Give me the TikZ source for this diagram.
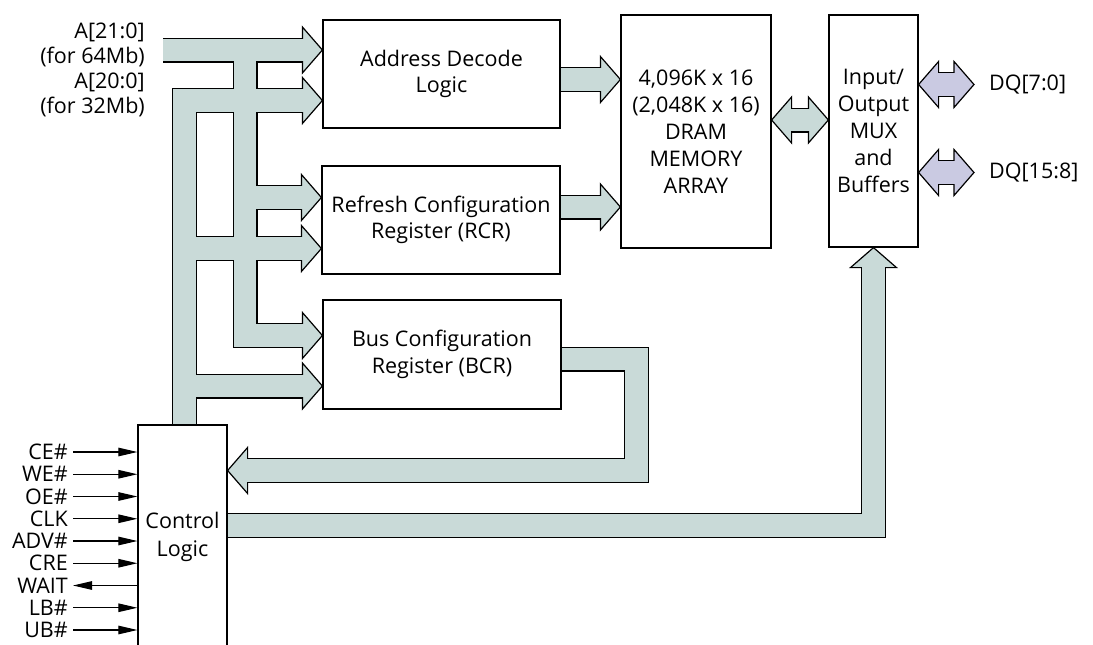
\documentclass[tikz,border=0pt]{standalone}
\usepackage{fontspec}
\setmainfont{Open Sans}
\usetikzlibrary{arrows.meta,calc,backgrounds}

\definecolor{busgray}{RGB}{201,218,216}
\definecolor{buslav}{RGB}{202,202,226}

\tikzset{
  blk/.style={draw=black, line width=1.2pt, fill=white, align=center, inner sep=0pt,
    font=\fontsize{21.5}{26.5}\selectfont},
  txt/.style={inner sep=0pt, font=\fontsize{21.5}{25}\selectfont},
  busedge/.style={draw=black, line width=25pt, line join=miter},
  busfill/.style={draw=#1, line width=22.6pt, line join=miter},
  busfill/.default=busgray,
  sig/.style={line width=1.1pt, >={Triangle[length=19pt,width=8.5pt]}},
  bushead/.pic={\path[pic actions, draw=black, line width=1.2pt, line join=miter]
    (0,0) -- (-20,-23) -- (-20,23) -- cycle;}
}

% all gray bus routes, #1 = style, #2 = overlap into the heads
\newcommand\graynet[2]{%
  \draw[#1] (aIn) -- ($(adl.west |- aIn)+(-20+#2,0)$);
  \draw[#1] (aTop) -- (aBot) -- ($(bcr.west |- aBot)+(-20+#2,0)$);
  \draw[#1] (aMid) -- ($(rcr.west |- aMid)+(-20+#2,0)$);
  \draw[#1] (ctl.north -| cTop) -- (cTop) -- ($(adl.west |- cTop)+(-20+#2,0)$);
  \draw[#1] (cMid) -- ($(rcr.west |- cMid)+(-20+#2,0)$);
  \draw[#1] (cBot) -- ($(bcr.west |- cBot)+(-20+#2,0)$);
  \draw[#1] (adl.east |- amIn) -- ($(mem.west |- amIn)+(-20+#2,0)$);
  \draw[#1] (rcr.east |- rmIn) -- ($(mem.west |- rmIn)+(-20+#2,0)$);
  \draw[#1] ($(mem.east |- mio)+(20-#2,0)$) -- ($(iob.west |- mio)+(-20+#2,0)$);
  \draw[#1] (bcr.east |- bOut) -- (bOut) -- (bRet) -- ($(ctl.east |- bRet)+(20-#2,0)$);
  \draw[#1] (ctl.east |- ioRun) -- (ioRun) -- ($(iob.south -| ioRun)+(0,20-#2)$);
}

\begin{document}
\begin{tikzpicture}[x=1pt, y=-1pt]
  \useasboundingbox (0,0) rectangle (1093,645);

  % blocks
  \node[blk, minimum width=237, minimum height=108] (adl) at (441.5,74) {Address Decode\\Logic};
  \node[blk, minimum width=238, minimum height=108] (rcr) at (441,220) {Refresh Configuration\\Register (RCR)};
  \node[blk, minimum width=238, minimum height=109] (bcr) at (442,354.5) {Bus Configuration\\Register (BCR)};
  \node[blk, minimum width=150, minimum height=233, font=\fontsize{21.5}{27}\selectfont] (mem) at (696,131.5)
    {4,096K x 16\\(2,048K x 16)\\DRAM\\MEMORY\\ARRAY};
  \node[blk, minimum width=89, minimum height=232, font=\fontsize{21.5}{27}\selectfont] (iob) at (873.5,131)
    {Input/\\Output\\MUX\\and\\Buffers};
  \node[blk, minimum width=89, minimum height=224, font=\fontsize{21.5}{28}\selectfont] (ctl) at (182.5,537)
    {Control\\Logic};

  \node[txt, align=right, anchor=east] (alab) at (145,69.5) {A[21:0]\\(for 64Mb)\\A[20:0]\\(for 32Mb)};
  \node[txt, anchor=west] (dqa) at (989,84.5) {DQ[7:0]};
  \node[txt, anchor=west] (dqb) at (989,172.5) {DQ[15:8]};

  % bus corners
  \coordinate (aIn) at (163,50);
  \coordinate (aTop) at (245,50);
  \coordinate (aMid) at (245,197.5);
  \coordinate (aBot) at (245,335.5);
  \coordinate (cTop) at (184.5,100.5);
  \coordinate (cMid) at (184.5,248.5);
  \coordinate (cBot) at (184.5,386);
  \coordinate (amIn) at (560,79.5);
  \coordinate (rmIn) at (560,207);
  \coordinate (mio) at (790,120);
  \coordinate (bOut) at (636.5,359);
  \coordinate (bRet) at (636.5,470.5);
  \coordinate (ioRun) at (873.5,525.5);

  \begin{scope}[on background layer]
    \graynet{busedge}{0}
    \foreach \n in {dqa,dqb}
      \draw[busedge] ($(iob.east |- \n)+(20,0)$) -- ($(\n.west)+(-35,0)$);

    \pic[fill=busgray] at (adl.west |- aIn) {bushead};
    \pic[fill=busgray] at (adl.west |- cTop) {bushead};
    \pic[fill=busgray] at (rcr.west |- aMid) {bushead};
    \pic[fill=busgray] at (rcr.west |- cMid) {bushead};
    \pic[fill=busgray] at (bcr.west |- aBot) {bushead};
    \pic[fill=busgray] at (bcr.west |- cBot) {bushead};
    \pic[fill=busgray] at (mem.west |- amIn) {bushead};
    \pic[fill=busgray] at (mem.west |- rmIn) {bushead};
    \pic[fill=busgray, rotate=180] at (mem.east |- mio) {bushead};
    \pic[fill=busgray] at (iob.west |- mio) {bushead};
    \pic[fill=busgray, rotate=180] at (ctl.east |- bRet) {bushead};
    \pic[fill=busgray, rotate=90] at (iob.south) {bushead};
    \foreach \n in {dqa,dqb} {
      \pic[fill=buslav, rotate=180] at (iob.east |- \n) {bushead};
      \pic[fill=buslav] at ($(\n.west)+(-15,0)$) {bushead};
    }

    \graynet{busfill}{2}
    \foreach \n in {dqa,dqb}
      \draw[busfill=buslav] ($(iob.east |- \n)+(18,0)$) -- ($(\n.west)+(-33,0)$);
  \end{scope}

  % control pins
  \foreach \s/\d [count=\i] in {CE\#/->, WE\#/->, OE\#/->, CLK/->, ADV\#/->, CRE/->, WAIT/<-, LB\#/->, UB\#/->} {
    \node[txt, anchor=east] (pin\i) at (68,{452+22.25*(\i-1)}) {\s};
    \draw[sig, \d] ($(pin\i.east)+(5,0)$) -- (ctl.west |- pin\i.east);
  }
\end{tikzpicture}
\end{document}
